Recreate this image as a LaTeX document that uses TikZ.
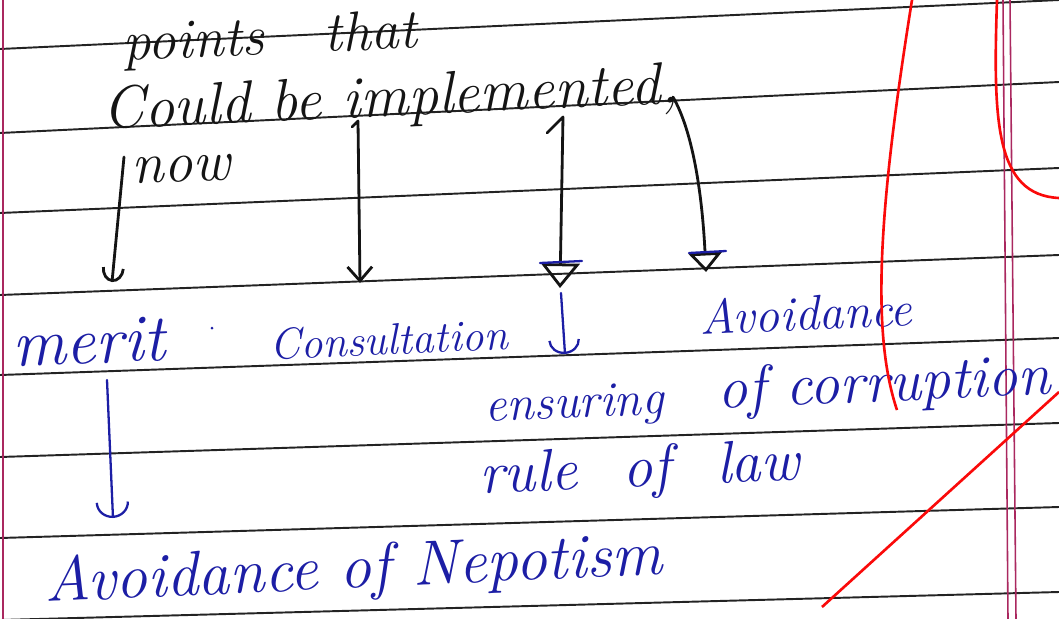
\documentclass[tikz,border=0pt]{standalone}
\usetikzlibrary{arrows.meta}

\definecolor{inkblue}{RGB}{28,30,165}
\definecolor{penblack}{RGB}{20,20,20}
\definecolor{rulegray}{RGB}{35,35,35}
\definecolor{marginpink}{RGB}{170,40,95}
\definecolor{markred}{RGB}{250,10,10}

\newcommand{\handsize}[1]{\fontsize{#1}{#1}\selectfont}

\tikzset{
  ruled/.style={rulegray, line width=1.1pt},
  marginline/.style={marginpink, line width=0.9pt},
  redmark/.style={markred, line width=1.5pt},
  pen/.style={penblack, inner sep=0pt, anchor=base west, rotate=2.6, font=\itshape},
  ink/.style={inkblue, inner sep=0pt, anchor=base west, rotate=2.6, font=\itshape},
  penline/.style={penblack, line width=1.6pt, line cap=round, line join=round},
  inkline/.style={inkblue, line width=1.3pt, line cap=round, line join=round},
}

\begin{document}
\begin{tikzpicture}[x=0.02cm, y=-0.02cm]

      \useasboundingbox (0,0) rectangle (1059,619);

      % Ruled paper
      \draw[ruled] (0,49) -- (1059,0);
      \draw[ruled] (0,133) -- (1059,82);
      \draw[ruled] (0,213) -- (1059,168);
      \draw[ruled] (0,295) -- (1059,255);
      \draw[ruled] (0,375) -- (1059,338);
      \draw[ruled] (0,457) -- (1059,423);
      \draw[ruled] (0,538) -- (1059,507);
      \draw[ruled] (0,620) -- (1059,592);

      % Margins
      \draw[marginline] (3,0) -- (3,619);
      \draw[marginline] (1003,0) -- (1008,619);
      \draw[marginline] (1010,0) -- (1016,619);

      % Heading
      \node[pen] (points) at (123,61) {\handsize{32}points\hspace{34pt}that};
      \node[pen] (could) at (103,129) {\handsize{34}Could be implemented,};
      \node[pen] (now) at (132,184) {\handsize{33}now};

      % Points
      \node[ink] (merit) at (13,367) {\handsize{38}merit};
      \node[ink] (consult) at (270,360) {\handsize{25}Consultation};
      \node[ink] (avoid) at (700,335) {\handsize{28}Avoidance};
      \node[ink] (ensure) at (485,422) {\handsize{28}ensuring};
      \node[ink] (corrupt) at (718,409) {\handsize{34}of corruption};
      \node[ink] (rule) at (480,494) {\handsize{34}rule\hspace{26pt}of\hspace{26pt}law};
      \node[ink] (nepo) at (45,602) {\handsize{36}Avoidance of Nepotism};
      \fill[inkblue] (212,328) circle (1.5);

      % Arrow ends
      \coordinate (nowbar) at (124,157);
      \coordinate (meritend) at (112,282);
      \coordinate (betop) at (352,127);
      \coordinate (consultend) at (360,283);
      \coordinate (impltop) at (547,133);
      \coordinate (ensureend) at (560,288);
      \coordinate (commatop) at (673,97);
      \coordinate (avoidend) at (706,272);
      \coordinate (ensuretop) at (561,293);
      \coordinate (ensurehead) at (565,354);
      \coordinate (meritfoot) at (107,380);
      \coordinate (nepoend) at (113,518);

      % Black arrows
      \draw[penline, -{Arc Barb[length=8pt,width=13pt]}] (nowbar) -- (meritend);
      \draw[penline, -{Straight Barb[length=8pt,width=14pt]}] (betop) -- (358,121) -- (consultend);
      \draw[penline, -{Triangle[open,length=14pt,width=22pt]}] (impltop) -- (563,117) -- (ensureend);
      \draw[penline, -{Triangle[open,length=11pt,width=19pt]}] (commatop) .. controls (692,130) and (702,190) .. (avoidend);
      \draw[inkline] (540,263) -- (582,261);
      \draw[inkline] (689,253) -- (726,251);

      % Blue arrows
      \draw[inkline, -{Arc Barb[length=8pt,width=18pt]}] (ensuretop) -- (ensurehead);
      \draw[inkline, -{Arc Barb[length=9pt,width=19pt]}] (meritfoot) -- (nepoend);

      % Red marks
      \draw[redmark] (912,0) .. controls (880,200) and (870,330) .. (897,410);
      \draw[redmark] (997,0) .. controls (993,120) and (995,195) .. (1059,198);
      \draw[redmark] (822,607) -- (1059,392);

    \end{tikzpicture}
\end{document}
